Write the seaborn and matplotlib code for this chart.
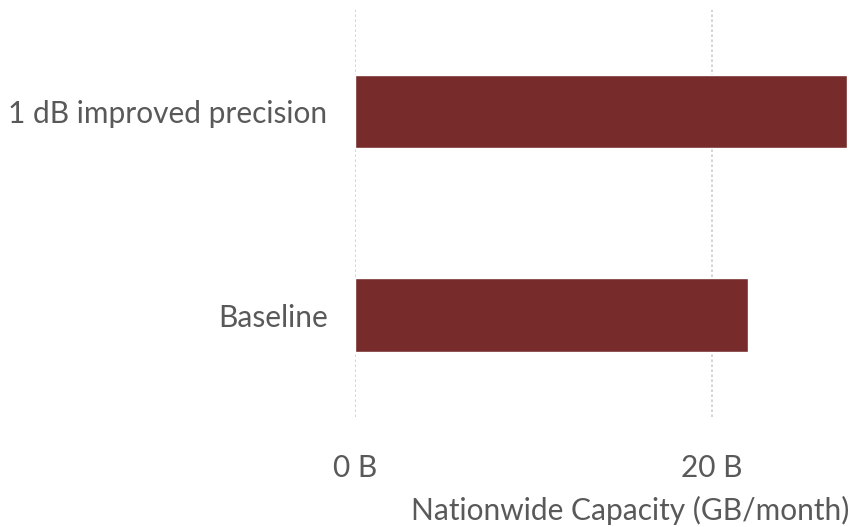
import matplotlib
matplotlib.use("Agg")
import matplotlib.pyplot as plt
import seaborn as sns
import pandas as pd

categories = ["1 dB improved precision", "Baseline"]
values = [27.55, 22.0]
xticks = [0, 20]
xtick_labels = ["0 B", "20 B"]

df = pd.DataFrame({"scenario": categories, "capacity": values})

sns.set_theme(style="white")
plt.rcParams["font.family"] = ["Lato", "DejaVu Sans"]
grey = "#595959"
fs = 21.5

fig = plt.figure(figsize=(8.49, 5.27), dpi=100)
ax = fig.add_axes([355.3 / 849, 1 - 416.7 / 527, (849 - 355.3) / 849, (416.7 - 10) / 527])

ax.set_axisbelow(True)
for x in xticks:
    ax.axvline(x, color="#cccccc", lw=1.2, ls=(0, (1.5, 1.5)), zorder=0)

sns.barplot(data=df, y="scenario", x="capacity", orient="h", color="#772B2B",
            saturation=1, width=0.36, ax=ax, zorder=2)

ax.set_xlim(0, (849 - 355.3) / 17.83)
ax.set_ylim(1.5, -0.5)
ax.set_xticks(xticks)
ax.set_xticklabels(xtick_labels)
ax.tick_params(axis="x", length=0, pad=27, labelsize=fs, labelcolor=grey)
ax.tick_params(axis="y", length=0, pad=20, labelsize=fs, labelcolor=grey)
for s in ax.spines.values():
    s.set_visible(False)
ax.grid(False)
ax.set_ylabel("")
ax.set_xlabel("Nationwide Capacity (GB/month)", fontsize=fs, color=grey, loc="right", labelpad=10)

fig.savefig("out.png", dpi=100)
